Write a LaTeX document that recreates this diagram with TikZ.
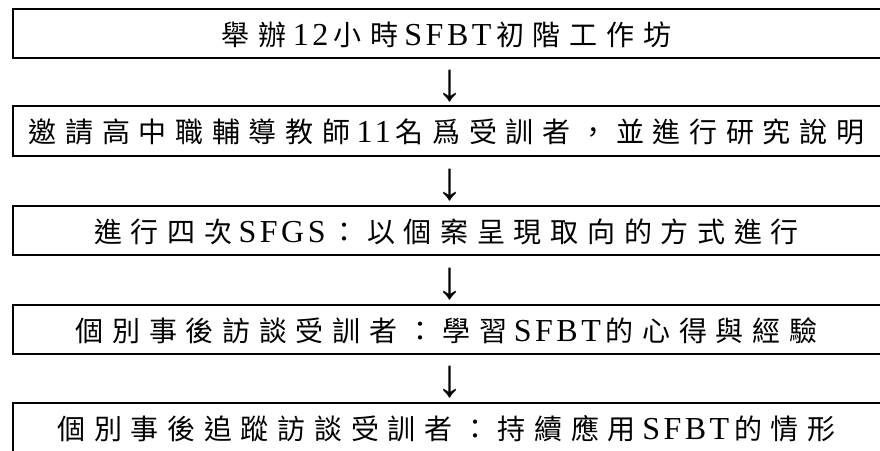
\documentclass[tikz,border=0pt]{standalone}
\usepackage{fontspec}
\setmainfont[LetterSpace=11]{Liberation Serif}
\newfontfamily\cjk{Noto Sans CJK TC}
\newfontfamily\arrfont{Liberation Serif}
\makeatletter
\def\cjkrun#1{\cjkrun@loop#1\@nil}
\def\cjkrun@loop#1{\ifx\@nil#1\else\makebox[36.7pt]{\cjk#1}\expandafter\cjkrun@loop\fi}
\makeatother
\newcommand\lat[1]{\hspace{2pt}{\fontsize{32pt}{34pt}\selectfont #1}\hspace{0.5pt}}
\begin{document}
\begin{tikzpicture}[x=1pt,y=-1pt,
  stepbox/.style={rectangle, inner sep=0pt, minimum width=867pt, minimum height=49pt,
    text height=24pt, text depth=0.5pt, font=\fontsize{28pt}{30pt}\selectfont},
  rule/.style={line width=2.3pt, line join=miter, black},
  arr/.style={inner sep=0pt, font=\arrfont\fontsize{54pt}{56pt}\selectfont}]
\useasboundingbox (0,0) rectangle (880,450);
\node[stepbox] (b1) at (446.5,33.5) {\cjkrun{舉辦}\lat{12}\cjkrun{小時}\lat{SFBT}\cjkrun{初階工作坊}};
\node[stepbox] (b2) at (446.5,131) {\cjkrun{邀請高中職輔導教師}\lat{11}\cjkrun{名爲受訓者，並進行研究說明}};
\node[stepbox] (b3) at (446.5,230.5) {\cjkrun{進行四次}\lat{SFGS}\cjkrun{：以個案呈現取向的方式進行}};
\node[stepbox] (b4) at (446.5,329.5) {\cjkrun{個別事後訪談受訓者：學習}\lat{SFBT}\cjkrun{的心得與經驗}};
\node[stepbox] (b5) at (446.5,427.5) {\cjkrun{個別事後追蹤訪談受訓者：持續應用}\lat{SFBT}\cjkrun{的情形}};
\node[arr] (a1) at (450,86) {↓};
\node[arr] (a2) at (450,185) {↓};
\node[arr] (a3) at (450,284) {↓};
\node[arr] (a4) at (450,382.5) {↓};
\foreach \b in {b1,b2,b3,b4}
  \draw[rule] (\b.north east) -- (\b.north west) -- (\b.south west) -- (\b.south east);
\draw[rule] (b5.north east) -- (b5.north west) -- (b5.south west);
\end{tikzpicture}
\end{document}
